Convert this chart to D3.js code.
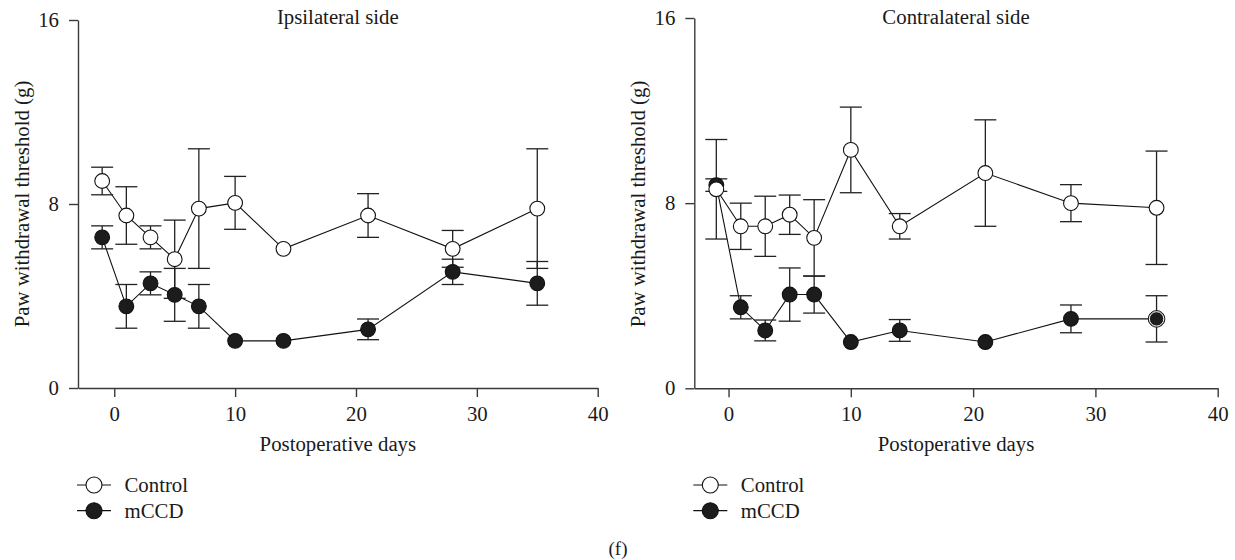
<!DOCTYPE html>
<html><head><meta charset="utf-8">
<script src="https://cdn.jsdelivr.net/npm/d3@7"></script>
<style>
html,body{margin:0;padding:0;background:#fff;}
</style></head>
<body><svg id="chart" width="1235" height="560"></svg>
<script>
// ---- data ----
const days = [-1, 1, 3, 5, 7, 10, 14, 21, 28, 35];
const xTicks = [0, 10, 20, 30, 40];
const yTicks = [0, 8, 16];
const ipsiControl    = [9.0, 7.5, 6.55, 5.6, 7.8, 8.05, 6.05, 7.5, 6.05, 7.8];
const ipsiControlErr = [0.6, 1.25, 0.5, 1.7, 2.6, 1.15, 0, 0.95, 0.8, 2.6];
const ipsiMCCD       = [6.55, 3.55, 4.55, 4.05, 3.55, 2.05, 2.05, 2.55, 5.05, 4.55];
const ipsiMCCDErr    = [0.5, 0.95, 0.5, 1.15, 0.95, 0, 0, 0.45, 0.55, 0.95];
const contraControl    = [8.6, 7.0, 7.0, 7.5, 6.5, 10.3, 7.0, 9.3, 8.0, 7.8];
const contraControlErr = [2.15, 1.0, 1.3, 0.85, 1.65, 1.85, 0.55, 2.3, 0.8, 2.45];
const contraMCCD       = [8.78, 3.5, 2.5, 4.05, 4.05, 2.0, 2.5, 2.0, 3.0, 3.0];
const contraMCCDErr    = [0.27, 0.5, 0.45, 1.15, 0.8, 0, 0.47, 0, 0.6, 1.0];
const seriesNames = ["Control", "mCCD"];
const panelTitles = ["Ipsilateral side", "Contralateral side"];
const yTitle = "Paw withdrawal threshold (g)";
const xTitle = "Postoperative days";

const svg = d3.select("#chart");
const FONT = 20.8;
const FF = '"Liberation Serif", "Times New Roman", Times, serif';
const AX = "#3a3a3a";
const TXT = "#1a1a1a";

function txt(sel) {
  return sel.style("font-family", FF).attr("font-size", FONT).attr("fill", TXT);
}

const panels = [
  {title: panelTitles[0], x0: 78, x1: 597.7, xmin: -3, yTop: 20, yBot: 388,
   ctrl: ipsiControl, ctrlErr: ipsiControlErr, mccd: ipsiMCCD, mccdErr: ipsiMCCDErr, ring: -1},
  {title: panelTitles[1], x0: 694.3, x1: 1217.7, xmin: -2.8, yTop: 18, yBot: 388.3,
   ctrl: contraControl, ctrlErr: contraControlErr, mccd: contraMCCD, mccdErr: contraMCCDErr, ring: 9}
];

panels.forEach(p => {
  const x = d3.scaleLinear().domain([p.xmin, 40]).range([p.x0, p.x1]);
  const y = d3.scaleLinear().domain([0, 16]).range([p.yBot, p.yTop]);
  const g = svg.append("g");

  // axes
  const ya = g.append("g").attr("transform", `translate(${p.x0},0)`)
    .call(d3.axisLeft(y).tickValues(yTicks).tickSize(9).tickPadding(10).tickSizeOuter(0));
  const xa = g.append("g").attr("transform", `translate(0,${p.yBot})`)
    .call(d3.axisBottom(x).tickValues(xTicks).tickSize(9).tickPadding(9).tickSizeOuter(0));
  [ya, xa].forEach(a => {
    a.attr("font-family", null).attr("font-size", null);
    a.selectAll("path,line").attr("stroke", AX).attr("stroke-width", 1.4);
    txt(a.selectAll("text"));
  });

  // titles
  txt(g.append("text")).attr("x", (p.x0 + p.x1) / 2).attr("y", 24).attr("text-anchor", "middle")
    .text(p.title);
  txt(g.append("text")).attr("x", (p.x0 + p.x1) / 2).attr("y", 451).attr("text-anchor", "middle")
    .text(xTitle);
  const yc = p.x0 - 56.5, ym = 204;
  txt(g.append("text")).attr("transform", `translate(${yc},${ym}) rotate(-90)`)
    .attr("text-anchor", "middle").attr("dy", "0.35em").text(yTitle);

  const series = [
    {vals: p.ctrl, err: p.ctrlErr, fill: "#fff"},
    {vals: p.mccd, err: p.mccdErr, fill: "#1c1c1c"}
  ];
  const line = d3.line().x((d, i) => x(days[i])).y(d => y(d));

  // lines
  series.forEach(s => {
    g.append("path").attr("d", line(s.vals)).attr("fill", "none")
      .attr("stroke", "#111").attr("stroke-width", 1.1);
  });
  // error bars
  const cap = 11;
  series.forEach(s => {
    s.vals.forEach((v, i) => {
      if (!s.err[i]) return;
      const cx = x(days[i]), yt = y(v + s.err[i]), yb = y(v - s.err[i]);
      const eb = g.append("g").attr("stroke", "#222").attr("stroke-width", 1.3);
      eb.append("line").attr("x1", cx).attr("x2", cx).attr("y1", yt).attr("y2", yb);
      eb.append("line").attr("x1", cx - cap).attr("x2", cx + cap).attr("y1", yt).attr("y2", yt);
      eb.append("line").attr("x1", cx - cap).attr("x2", cx + cap).attr("y1", yb).attr("y2", yb);
    });
  });
  // markers (mCCD first, control on top)
  [series[1], series[0]].forEach(s => {
    g.selectAll(null).data(s.vals).enter().append("circle")
      .attr("cx", (d, i) => x(days[i])).attr("cy", d => y(d)).attr("r", 7.4)
      .attr("fill", s.fill).attr("stroke", "#111").attr("stroke-width", 1.1);
  });
  if (p.ring >= 0) {
    const v = p.mccd[p.ring];
    g.append("circle").attr("cx", x(days[p.ring])).attr("cy", y(v)).attr("r", 8.3)
      .attr("fill", "none").attr("stroke", "#111").attr("stroke-width", 1);
    g.append("circle").attr("cx", x(days[p.ring])).attr("cy", y(v)).attr("r", 7.2)
      .attr("fill", "none").attr("stroke", "#fff").attr("stroke-width", 1);
  }

  // legend
  const lx = p.x0 - 1;
  seriesNames.forEach((name, k) => {
    const ly = 485 + k * 25.7;
    const lg = g.append("g");
    lg.append("line").attr("x1", lx).attr("x2", lx + 34).attr("y1", ly).attr("y2", ly)
      .attr("stroke", "#111").attr("stroke-width", 1.2);
    lg.append("circle").attr("cx", lx + 17).attr("cy", ly).attr("r", 8)
      .attr("fill", series[k].fill).attr("stroke", "#111").attr("stroke-width", 1.1);
    txt(lg.append("text")).attr("x", lx + 47.5).attr("y", ly).attr("dy", "0.34em").text(name);
  });
});

txt(svg.append("text")).attr("x", 618).attr("y", 548).attr("dy", "0.35em").attr("text-anchor", "middle")
  .attr("font-size", 19).text("(f)");
</script></body></html>
